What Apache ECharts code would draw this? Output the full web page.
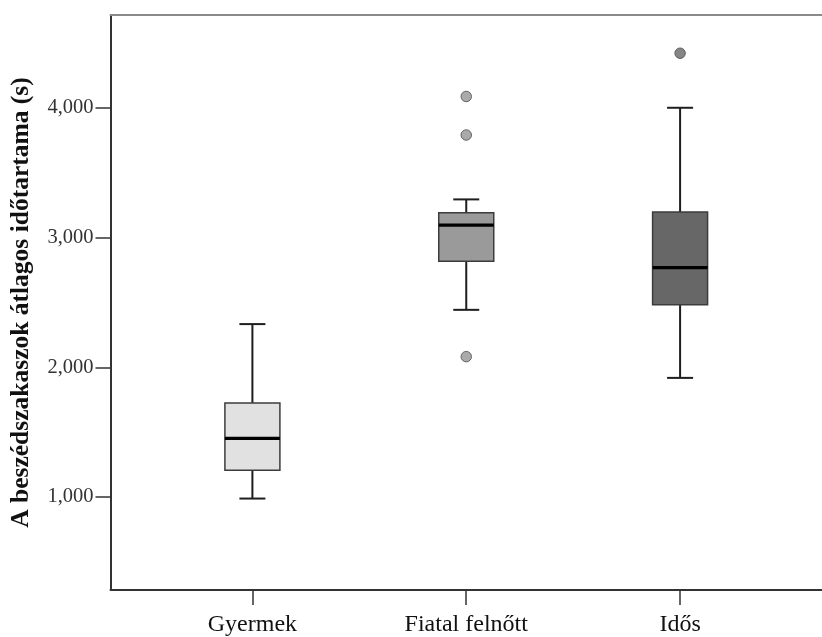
<!DOCTYPE html>
<html>
<head>
<meta charset="utf-8">
<script src="https://cdn.jsdelivr.net/npm/echarts@6/dist/echarts.min.js"></script>
<style>
  html, body { margin: 0; padding: 0; background: #fff; }
  #chart { width: 822px; height: 637px; }
</style>
</head>
<body>
<div id="chart"></div>
<script>
// Speech-segment mean durations (seconds) by age group
const categories = ['Gyermek', 'Fiatal felnőtt', 'Idős'];
const whiskerLow = [0.987, 2.443, 1.918];
const quartile1 = [1.205, 2.818, 2.482];
const medians = [1.451, 3.097, 2.769];
const quartile3 = [1.725, 3.192, 3.197];
const whiskerHigh = [2.333, 3.295, 4.002];
// outliers: [group position (1-based), value]
const outliers = [[2, 4.089], [2, 3.792], [2, 2.082], [3, 4.423]];
const yTicks = [1, 2, 3, 4];
const yTitle = 'A beszédszakaszok átlagos időtartama (s)';

const boxFill = ['#e1e1e1', '#9a9a9a', '#676767'];
const outlierFill = { 2: '#959595', 3: '#676767' };

const boxData = categories.map((c, i) => [i + 1, whiskerLow[i], quartile1[i], medians[i], quartile3[i], whiskerHigh[i]]);
const xPositions = categories.map((c, i) => i + 1);

const fmt = v => v.toFixed(3).replace('.', ',');
const serif = '"Liberation Serif", "Times New Roman", serif';

const chart = echarts.init(document.getElementById('chart'), null, { renderer: 'canvas' });

function renderBox(params, api) {
  const x = api.value(0);
  const pLo = api.coord([x, api.value(1)]);
  const pQ1 = api.coord([x, api.value(2)]);
  const pMed = api.coord([x, api.value(3)]);
  const pQ3 = api.coord([x, api.value(4)]);
  const pHi = api.coord([x, api.value(5)]);
  const cx = pLo[0];
  const half = 27.5, cap = 13;
  const wStyle = { stroke: '#1e1e1e', lineWidth: 2 };
  return {
    type: 'group',
    children: [
      { type: 'line', shape: { x1: cx, y1: pLo[1], x2: cx, y2: pQ1[1] }, style: wStyle },
      { type: 'line', shape: { x1: cx, y1: pQ3[1], x2: cx, y2: pHi[1] }, style: wStyle },
      { type: 'line', shape: { x1: cx - cap, y1: pLo[1], x2: cx + cap, y2: pLo[1] }, style: wStyle },
      { type: 'line', shape: { x1: cx - cap, y1: pHi[1], x2: cx + cap, y2: pHi[1] }, style: wStyle },
      { type: 'rect', shape: { x: cx - half, y: pQ3[1], width: half * 2, height: pQ1[1] - pQ3[1] },
        style: { fill: boxFill[params.dataIndex], stroke: '#3c3c3c', lineWidth: 1.5 } },
      { type: 'line', shape: { x1: cx - half, y1: pMed[1], x2: cx + half, y2: pMed[1] },
        style: { stroke: '#000', lineWidth: 3.2 } }
    ]
  };
}

chart.setOption({
  animation: false,
  backgroundColor: '#fff',
  grid: { left: 110.5, right: -9.5, top: 15, bottom: 45.3, containLabel: false },
  xAxis: [
    {
      type: 'value', min: 0.3364, max: 3.6636, position: 'bottom',
      axisLine: { show: true, lineStyle: { color: '#333', width: 2 } },
      axisTick: { show: true, customValues: xPositions, length: 15, lineStyle: { color: '#333', width: 1.5 } },
      axisLabel: {
        customValues: xPositions, margin: 23,
        formatter: v => categories[Math.round(v) - 1] || '',
        fontFamily: serif, fontSize: 24, color: '#111'
      },
      splitLine: { show: false }
    },
    {
      type: 'value', min: 0.3364, max: 3.6636, position: 'top',
      axisLine: { show: true, lineStyle: { color: '#8a8a8a', width: 2 } },
      axisTick: { show: false }, axisLabel: { show: false }, splitLine: { show: false }
    }
  ],
  yAxis: {
    type: 'value', min: 0.2815, max: 4.7177,
    name: yTitle, nameLocation: 'middle', nameGap: 76, nameRotate: 90,
    nameTextStyle: { fontFamily: serif, fontSize: 25.5, fontWeight: 'bold', color: '#111' },
    axisLine: { show: true, lineStyle: { color: '#333', width: 2 } },
    axisTick: { show: true, customValues: yTicks, length: 15, lineStyle: { color: '#333', width: 1.5 } },
    axisLabel: {
      customValues: yTicks, margin: 17, formatter: v => fmt(v),
      fontFamily: serif, fontSize: 20.5, color: '#333'
    },
    splitLine: { show: false }
  },
  series: [
    {
      type: 'custom', name: 'box', renderItem: renderBox,
      data: boxData, encode: { x: 0, y: [1, 2, 3, 4, 5] }, z: 2
    },
    {
      type: 'scatter', name: 'outliers', data: outliers, symbol: 'circle', symbolSize: 10.5,
      itemStyle: {
        color: p => outlierFill[p.value[0]],
        borderColor: '#4a4a4a', borderWidth: 1
      },
      z: 3
    }
  ]
});
</script>
</body>
</html>
